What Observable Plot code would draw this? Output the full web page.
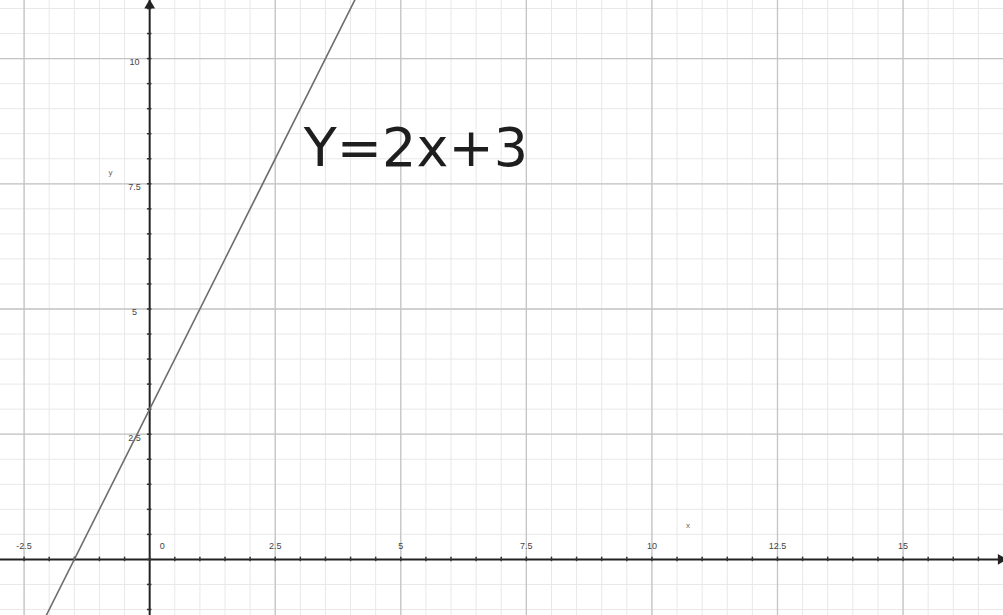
<!DOCTYPE html>
<html>
<head>
<meta charset="utf-8">
<script src="https://cdn.jsdelivr.net/npm/d3@7"></script>
<script src="https://cdn.jsdelivr.net/npm/@observablehq/plot@0.6"></script>
<style>
  html, body { margin: 0; padding: 0; background: #fff; }
  #chart svg { display: block; }
</style>
</head>
<body>
<div id="chart"></div>
<script>
// Line y = 2x + 3, two endpoints (clipped to frame)
const lineX = [-2.2, 4.2];
const lineY = [-1.4, 11.4];

// Tick labels
const xTickVals = [-2.5, 0, 2.5, 5, 7.5, 10, 12.5, 15];
const xTickLabels = ["-2.5", "0", "2.5", "5", "7.5", "10", "12.5", "15"];
const yTickVals = [2.5, 5, 7.5, 10];
const yTickLabels = ["2.5", "5", "7.5", "10"];

// Grid lines
const minorX = d3.range(-3, 17.01, 0.5);
const minorY = d3.range(-1, 11.01, 0.5);
const majorX = [-2.5, 2.5, 5, 7.5, 10, 12.5, 15];
const majorY = [2.5, 5, 7.5, 10];

const equationLabel = "Y=2x+3";

const lineData = lineX.map((x, i) => ({x, y: lineY[i]}));
const xLabelData = xTickVals.map((v, i) => ({v, label: xTickLabels[i]}));
const yLabelData = yTickVals.map((v, i) => ({v, label: yTickLabels[i]}));

const chart = Plot.plot({
  width: 1003,
  height: 615,
  margin: 0,
  x: {domain: [-2.97, 17.0], axis: null},
  y: {domain: [-1.12, 11.16], axis: null},
  style: {background: "#fff"},
  marks: [
    // minor grid
    Plot.ruleX(minorX, {stroke: "#e8e8e8", strokeWidth: 1}),
    Plot.ruleY(minorY, {stroke: "#e8e8e8", strokeWidth: 1}),
    // major grid
    Plot.ruleX(majorX, {stroke: "#c4c4c4", strokeWidth: 1.3}),
    Plot.ruleY(majorY, {stroke: "#c4c4c4", strokeWidth: 1.3}),
    // axes
    Plot.ruleY([0], {stroke: "#222", strokeWidth: 2}),
    Plot.ruleX([0], {stroke: "#222", strokeWidth: 2}),
    // axis tick marks
    Plot.ruleX(minorX, {x: d => d, y1: -0.045, y2: 0.045, stroke: "#333", strokeWidth: 1.5}),
    Plot.ruleY(minorY, {y: d => d, x1: -0.045, x2: 0.045, stroke: "#333", strokeWidth: 1.5}),
    // arrowheads
    Plot.dot([{x: 0, y: 11.06}], {x: "x", y: "y", symbol: "triangle", r: 4, fill: "#222", stroke: "none"}),
    Plot.dot([{x: 16.95, y: 0}], {x: "x", y: "y", symbol: "triangle", r: 4, fill: "#222", stroke: "none", rotate: 90}),
    // tick labels
    Plot.text(xLabelData, {
      x: d => d.v === 0 ? 0.25 : d.v, y: 0.27,
      text: "label", fontSize: 9, fill: "#444", fontFamily: "Liberation Sans, Arial, sans-serif"
    }),
    Plot.text(yLabelData, {
      x: -0.3, y: d => d.v - 0.07,
      text: "label", fontSize: 9, fill: "#444", fontFamily: "Liberation Sans, Arial, sans-serif"
    }),
    // axis names
    Plot.text([{x: 10.72, y: 0.68, t: "x"}], {x: "x", y: "y", text: "t", fontSize: 8, fill: "#666", fontFamily: "Liberation Sans, Arial, sans-serif"}),
    Plot.text([{x: -0.78, y: 7.72, t: "y"}], {x: "x", y: "y", text: "t", fontSize: 8, fill: "#666", fontFamily: "Liberation Sans, Arial, sans-serif"}),
    // the line
    Plot.line(lineData, {x: "x", y: "y", stroke: "#6e6e6e", strokeWidth: 1.6, clip: true}),
    // equation label
    Plot.text([equationLabel], {
      x: 3.07, y: 8.2, text: d => d, textAnchor: "start", lineAnchor: "middle",
      fontSize: 54, fill: "#1e1e1e", fontFamily: "DejaVu Sans, sans-serif"
    })
  ]
});
document.getElementById("chart").append(chart);
</script>
</body>
</html>
